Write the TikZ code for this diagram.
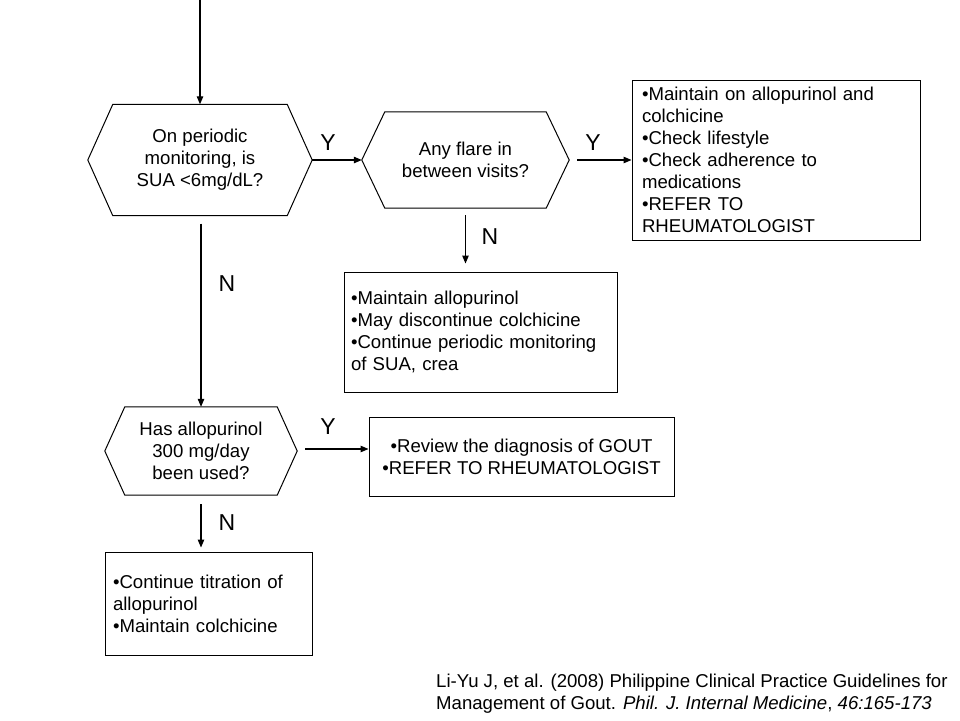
\documentclass[tikz,border=0pt]{standalone}
\usepackage{fontspec}
\setmainfont{Liberation Sans}
\usetikzlibrary{arrows.meta,calc}
\tikzset{
  body/.style={font=\fontsize{18.6}{22}\selectfont},
  hexnode/.style={body, draw=none, inner sep=0pt, align=center},
  box/.style={body, draw, line width=1pt, inner ysep=0pt, align=left},
  lab/.style={font=\fontsize{23}{26}\selectfont},
  arr/.style={line width=1.1pt, -{Triangle[length=8pt,width=6.5pt]}},
  hexline/.style={line width=1pt},
}
\newcommand{\hexdraw}[2]{%
  \draw[hexline] (#1.west) -- ([xshift=#2]#1.north west) -- ([xshift=-#2]#1.north east)
    -- (#1.east) -- ([xshift=-#2]#1.south east) -- ([xshift=#2]#1.south west) -- cycle;}
\begin{document}
\begin{tikzpicture}[x=1pt,y=-1pt]
\useasboundingbox[fill=white] (0,0) rectangle (960,720);

% decision hexagons
\node[hexnode, minimum width=224pt, minimum height=111pt] (h1) at (200,160)
  {On periodic\\monitoring, is\\SUA <6mg/dL?};
\hexdraw{h1}{25pt}
\node[hexnode, minimum width=207pt, minimum height=96pt] (h2) at (465.5,160)
  {Any flare in\\between visits?};
\hexdraw{h2}{23pt}
\node[hexnode, minimum width=192pt, minimum height=88pt] (h3) at (201,451)
  {Has allopurinol\\300 mg/day\\been used?};
\hexdraw{h3}{20pt}

% boxes
\node[box, minimum width=288pt, minimum height=160pt, inner xsep=10pt, text width=268pt] (b1) at (776,160)
  {•Maintain on allopurinol and\\colchicine\\•Check lifestyle\\•Check adherence to\\medications\\•REFER TO\\RHEUMATOLOGIST};
\node[box, minimum width=273pt, minimum height=120pt, inner xsep=7pt, text width=259pt] (b2) at (480.5,332)
  {•Maintain allopurinol\\•May discontinue colchicine\\•Continue periodic monitoring\\of SUA, crea};
\node[box, minimum width=305pt, minimum height=79pt, align=center] (b3) at (521.5,456.5)
  {•Review the diagnosis of GOUT\\•REFER TO RHEUMATOLOGIST};
\node[box, minimum width=207pt, minimum height=103pt, inner xsep=8pt, text width=191pt] (b4) at (208.5,603.5)
  {•Continue titration of\\allopurinol\\•Maintain colchicine};

% connectors
\coordinate (start) at (200,0);
\draw[arr] (start) -- (h1.north);
\draw[arr] (h1.east) -- (h2.west);
\draw[arr, shorten <=8pt] (h2.east) -- (h2.east -| b1.west);
\draw[arr, shorten <=7pt, shorten >=8pt] (h2.south) -- (h2.south |- b2.north);
\draw[arr, shorten <=8pt] ([xshift=1pt]h1.south) -- ([xshift=1pt]h1.south |- h3.north);
\draw[arr, shorten <=8pt] ([yshift=2pt]h3.east) -- ([yshift=2pt]h3.east -| b3.west);
\draw[arr, shorten <=9pt, shorten >=4pt] (h3.south) -- (h3.south |- b4.north);

% labels
\node[lab] (y1) at (328,143) {Y};
\node[lab] (y2) at (593,143) {Y};
\node[lab] (n1) at (490,237) {N};
\node[lab] (n2) at (227,284) {N};
\node[lab] (y3) at (328,427) {Y};
\node[lab] (n3) at (227,523) {N};

% citation
\node[body, anchor=west, align=left, inner sep=0pt] (cite) at (436,694)
  {Li-Yu J, et al. (2008) Philippine Clinical Practice Guidelines for\\
   Management of Gout. \textit{Phil. J. Internal Medicine}, \textit{46:165-173}};
\end{tikzpicture}
\end{document}
